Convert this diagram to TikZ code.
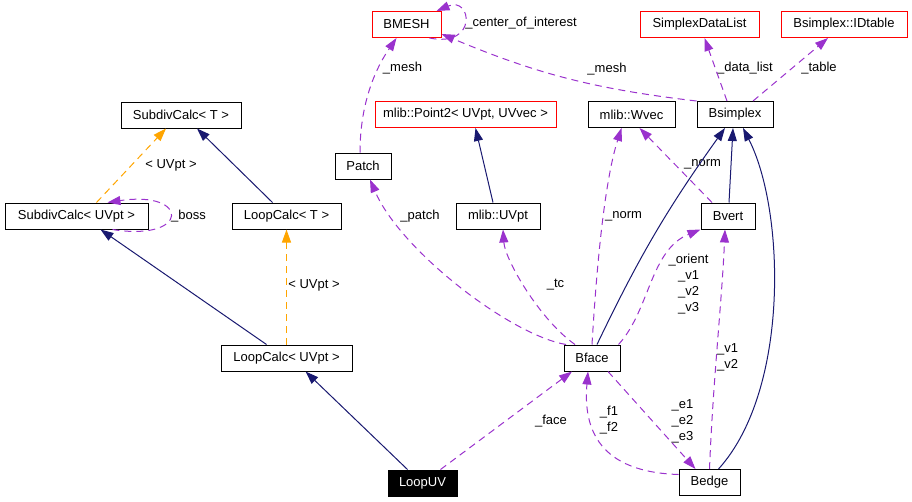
\documentclass[tikz,border=0pt]{standalone}
\usepackage{fontspec}
\setmainfont{Liberation Sans}
\usetikzlibrary{arrows.meta}
\definecolor{inhblue}{RGB}{25,25,112}
\definecolor{usepurple}{RGB}{154,50,205}
\definecolor{tplorange}{RGB}{255,165,0}
\begin{document}
\begin{tikzpicture}[x=1pt,y=-1pt,
  font=\fontsize{13}{16}\selectfont,
  cls/.style={draw, rectangle, line width=1pt, inner sep=0pt, minimum height=26pt, align=center},
  undoc/.style={cls, draw=red},
  tip/.style={-{Triangle[length=13pt,width=9pt]}},
  inherit/.style={tip, draw=inhblue, line width=1pt},
  usage/.style={tip, draw=usepurple, line width=1pt, dash pattern=on 7pt off 5pt},
  templ/.style={tip, draw=tplorange, line width=1pt, dash pattern=on 7pt off 5pt},
  lbl/.style={inner sep=0pt, align=center}]
\useasboundingbox (0,0) rectangle (912,501);
\node[undoc, minimum width=69pt] (bmesh) at (406.5,24.5) {BMESH};
\node[undoc, minimum width=119pt] (sdlist) at (699.5,24.5) {SimplexDataList};
\node[undoc, minimum width=126pt] (idtable) at (844,24.5) {Bsimplex::IDtable};
\node[cls, minimum width=120pt] (subdivt) at (181,115) {SubdivCalc< T >};
\node[undoc, minimum width=181pt] (point2) at (465.5,114.5) {mlib::Point2< UVpt, UVvec >};
\node[cls, minimum width=87pt] (wvec) at (631.5,114.5) {mlib::Wvec};
\node[cls, minimum width=76pt] (bsimplex) at (735,114.5) {Bsimplex};
\node[cls, minimum width=56pt] (patch) at (363,166) {Patch};
\node[cls, minimum width=143pt] (subdivuv) at (76.5,216) {SubdivCalc< UVpt >};
\node[cls, minimum width=109pt] (loopt) at (286.5,216) {LoopCalc< T >};
\node[cls, minimum width=84pt] (uvpt) at (498,216) {mlib::UVpt};
\node[cls, minimum width=54pt] (bvert) at (728,216) {Bvert};
\node[cls, minimum width=131pt] (loopuvpt) at (286.5,358) {LoopCalc< UVpt >};
\node[cls, minimum width=56pt] (bface) at (592,358) {Bface};
\node[cls, minimum width=69pt, fill=black, text=white] (loopuv) at (422.5,483) {LoopUV};
\node[cls, minimum width=61pt] (bedge) at (709.5,482.5) {Bedge};
% edge labels
\node[lbl] (lcoi) at (521,23) {\_center\_of\_interest};
\node[lbl] (lmesha) at (402.5,68) {\_mesh};
\node[lbl] (lmeshb) at (607,69) {\_mesh};
\node[lbl] (ldata) at (745,68) {\_data\_list};
\node[lbl] (ltable) at (819,68) {\_table};
\node[lbl] (ltpla) at (171,165) {< UVpt >};
\node[lbl] (lboss) at (188.5,216) {\_boss};
\node[lbl] (ltplb) at (314,285) {< UVpt >};
\node[lbl] (lpatch) at (420,216) {\_patch};
\node[lbl] (ltc) at (555.5,285) {\_tc};
\node[lbl] (lnorma) at (623.5,216) {\_norm};
\node[lbl] (lnormb) at (702.5,164) {\_norm};
\node[lbl] (lorient) at (688.5,284) {\_orient\\\_v1\\\_v2\\\_v3};
\node[lbl] (lvv) at (727.5,357) {\_v1\\\_v2};
\node[lbl] (lface) at (551,421) {\_face};
\node[lbl] (lff) at (609,420) {\_f1\\\_f2};
\node[lbl] (lee) at (682.5,421) {\_e1\\\_e2\\\_e3};
% inheritance
\draw[inherit] ([xshift=-14pt]loopt.north) -- ([xshift=16pt]subdivt.south);
\draw[inherit] ([xshift=-20pt]loopuvpt.north) -- ([xshift=24pt]subdivuv.south);
\draw[inherit] ([xshift=-15pt]loopuv.north) -- ([xshift=19pt]loopuvpt.south);
\draw[inherit] ([xshift=-5pt]uvpt.north) -- ([xshift=10pt]point2.south);
\draw[inherit] ([xshift=5pt]bface.north) to[bend left=5] ([xshift=-10pt]bsimplex.south);
\draw[inherit] ([xshift=1pt]bvert.north) -- ([xshift=-2pt]bsimplex.south);
\draw[inherit] ([xshift=9pt]bedge.north) .. controls (790,390) and (785,210) .. ([xshift=8pt]bsimplex.south);
% templates
\draw[templ] ([xshift=20pt]subdivuv.north) -- ([xshift=-15pt]subdivt.south);
\draw[templ] (loopuvpt.north) -- (loopt.south);
% usage
\draw[usage] ([xshift=-12pt]bmesh.south east) .. controls (478,48) and (472,-4) .. ([xshift=-5pt]bmesh.north east);
\draw[usage] (bsimplex.north west) to[bend left=8] ([yshift=4pt]bmesh.south east);
\draw[usage] ([xshift=-3pt]patch.north) .. controls (360,90) and (385,55) .. ([xshift=-10pt]bmesh.south);
\draw[usage] ([xshift=-8pt]bsimplex.north) -- ([xshift=5pt]sdlist.south);
\draw[usage] ([xshift=18pt]bsimplex.north) -- ([xshift=-16pt]idtable.south);
\draw[usage] ([xshift=36pt]subdivuv.south) .. controls (190,242) and (190,190) .. ([xshift=31pt]subdivuv.north);
\draw[usage] ([xshift=18pt]loopuv.north) -- ([xshift=-20pt]bface.south);
\draw[usage] ([xshift=-26pt]bface.north) .. controls (510,335) and (400,250) .. ([xshift=7pt]patch.south);
\draw[usage] ([xshift=-17pt]bface.north) .. controls (540,320) and (505,260) .. ([xshift=5pt]uvpt.south);
\draw[usage] (bface.north) .. controls (597,260) and (605,180) .. ([xshift=-10pt]wvec.south);
\draw[usage] ([xshift=-16pt]bvert.north) -- ([xshift=8pt]wvec.south);
\draw[usage] ([xshift=-2pt]bface.north east) .. controls (650,310) and (650,250) .. (bvert.south west);
\draw[usage] (bedge.north) .. controls (713,380) and (722,300) .. ([xshift=-3pt]bvert.south);
\draw[usage] ([xshift=16pt]bface.south) -- ([xshift=-14pt]bedge.north);
\draw[usage] ([yshift=8pt]bedge.west) .. controls (600,472) and (583,430) .. ([xshift=-4pt]bface.south);
\end{tikzpicture}
\end{document}
